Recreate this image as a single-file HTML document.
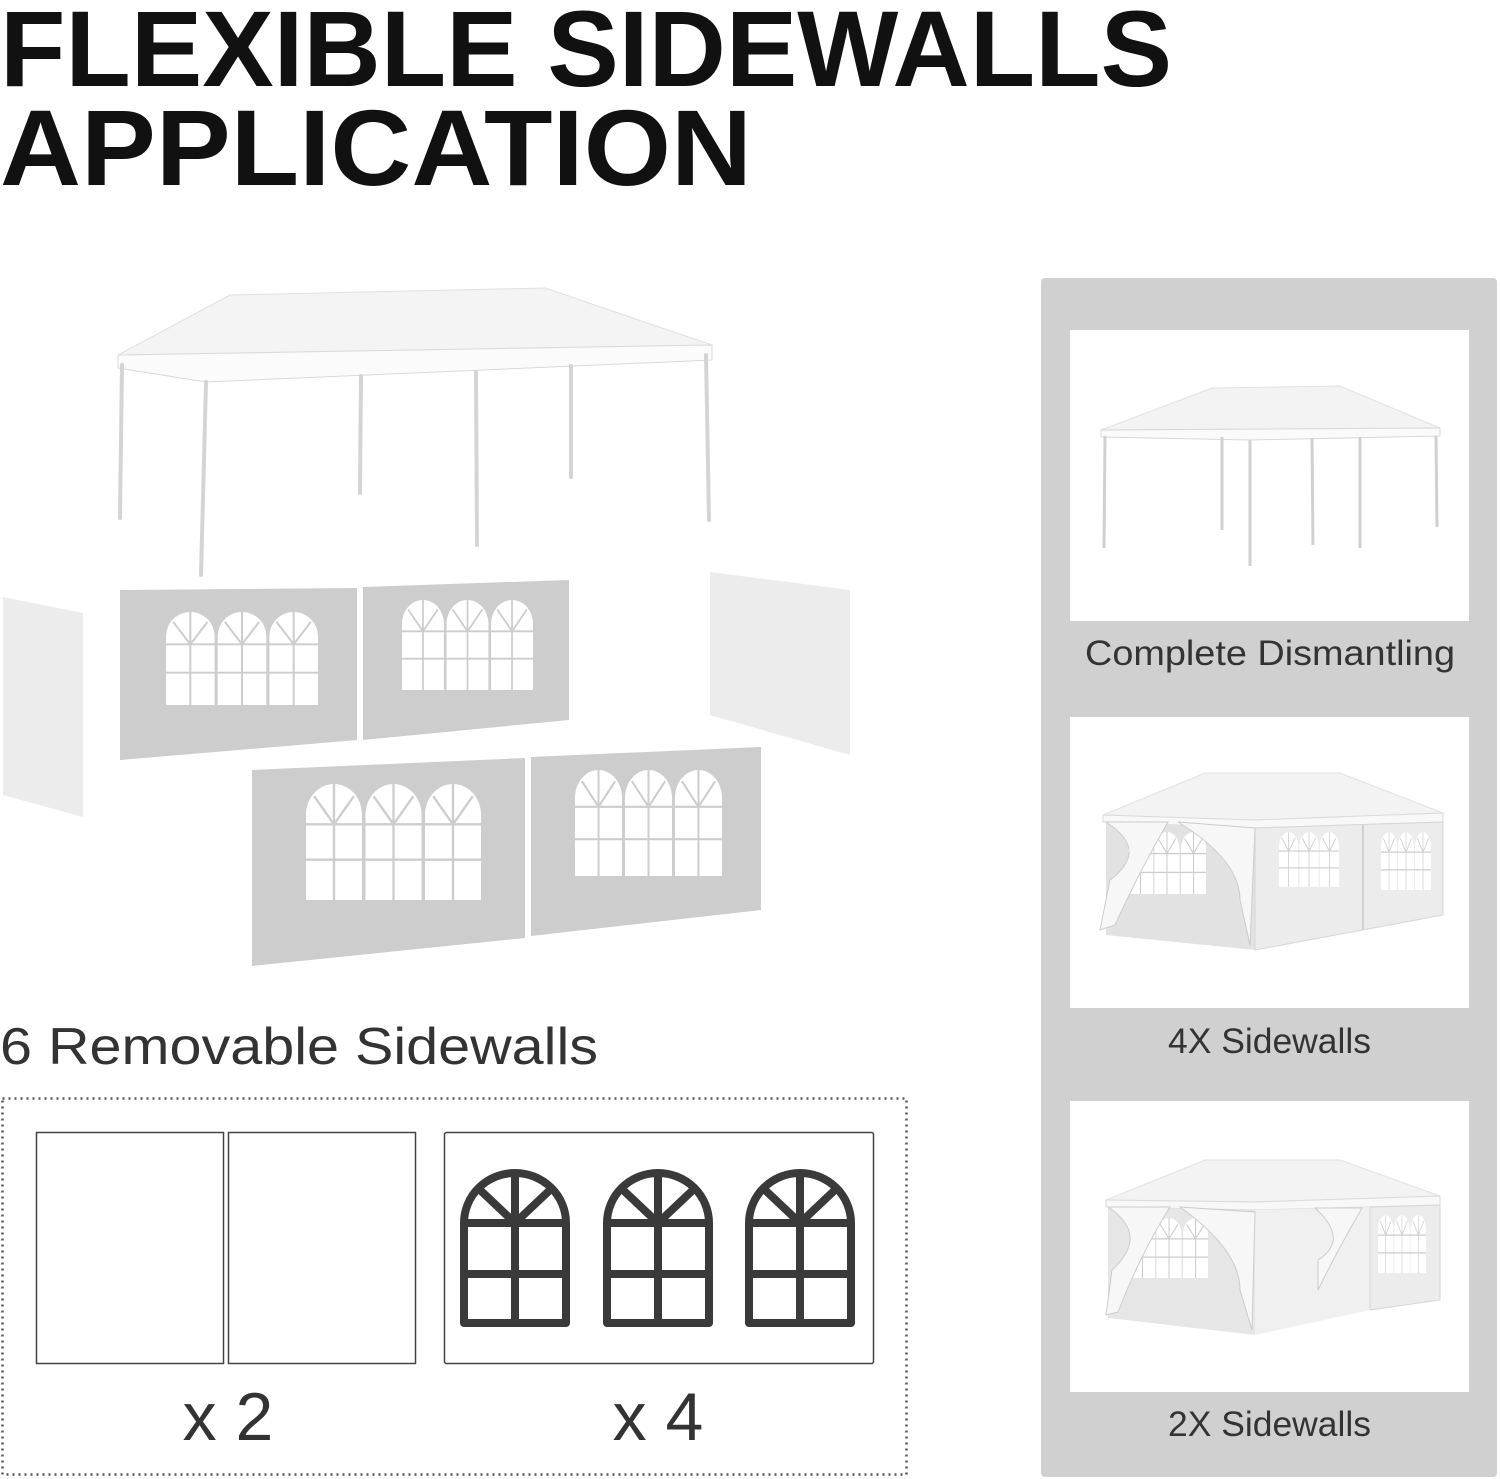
<!DOCTYPE html>
<html><head><meta charset="utf-8"><style>
html,body{margin:0;padding:0;background:#fff;}
svg{display:block;}
</style></head><body>
<svg width="1500" height="1479" viewBox="0 0 1500 1479" xmlns="http://www.w3.org/2000/svg" font-family="Liberation Sans, sans-serif">
<defs>
<symbol id="win" viewBox="0 0 150 95" preserveAspectRatio="none" overflow="visible">
  <g fill="#fff">
    <path d="M0,95 V25 A24,25 0 0 1 48,25 V95 Z"/>
    <path d="M51,95 V25 A24,25 0 0 1 99,25 V95 Z"/>
    <path d="M102,95 V25 A24,25 0 0 1 150,25 V95 Z"/>
  </g>
  <g stroke="#cdcdcd" stroke-width="2" fill="none">
    <path d="M24,0V95M75,0V95M126,0V95M0,33H150M0,62H150"/>
    <path d="M24,33L7,10M24,33L41,10M75,33L58,10M75,33L92,10M126,33L109,10M126,33L143,10"/>
  </g>
</symbol>
<symbol id="bigwin" viewBox="0 0 110 157" overflow="visible">
  <g fill="none" stroke="#3a3a3a" stroke-width="8" stroke-linejoin="round">
    <path d="M4,153 V53 A51,50 0 0 1 106,53 V153 Z"/>
    <path d="M55,4V153M4,53H106M4,104H106M55,53L19,19M55,53L91,19"/>
  </g>
</symbol>
</defs>

<!-- Title -->
<text x="0" y="86" font-size="108" font-weight="bold" fill="#111" textLength="1172" lengthAdjust="spacingAndGlyphs">FLEXIBLE SIDEWALLS</text>
<text x="0" y="185" font-size="108" font-weight="bold" fill="#111" textLength="752" lengthAdjust="spacingAndGlyphs">APPLICATION</text>

<!-- Main tent -->
<polygon points="118,355 230,295 545,288 712,345" fill="#f4f4f4" stroke="#e0e0e0"/>
<polygon points="118,355 712,345 712,360 206,382 118,368" fill="#fbfbfb" stroke="#dadada"/>
<g stroke="#d4d4d4" stroke-width="4" stroke-linecap="round">
  <line x1="122" y1="365" x2="120" y2="518"/>
  <line x1="206" y1="382" x2="201" y2="575"/>
  <line x1="361" y1="376" x2="360" y2="493"/>
  <line x1="476" y1="372" x2="477" y2="545"/>
  <line x1="571" y1="366" x2="571" y2="477"/>
  <line x1="706" y1="355" x2="709" y2="520"/>
</g>

<!-- Exploded sidewalls -->
<polygon points="3,597 83,613 83,817 3,795" fill="#ececec"/>
<polygon points="710,572 850,590 850,755 710,715" fill="#ececec"/>
<polygon points="120,590 357,588 357,740 120,760" fill="#cdcdcd"/>
<polygon points="363,587 569,580 569,720 363,740" fill="#cdcdcd"/>
<polygon points="252,770 525,758 525,938 252,966" fill="#cdcdcd"/>
<polygon points="531,757 761,747 761,910 531,936" fill="#cdcdcd"/>
<use href="#win" x="166" y="612" width="152" height="93"/>
<use href="#win" x="402" y="600" width="131" height="90"/>
<use href="#win" x="306" y="784" width="175" height="116"/>
<use href="#win" x="575" y="770" width="147" height="106"/>

<!-- 6 Removable Sidewalls -->
<text x="0" y="1064" font-size="52" fill="#333" textLength="598" lengthAdjust="spacingAndGlyphs">6 Removable Sidewalls</text>
<rect x="2.5" y="1098.5" width="904" height="376" fill="none" stroke="#555" stroke-width="2.5" stroke-dasharray="2,4"/>
<rect x="36.5" y="1132.5" width="187" height="231" fill="#fff" stroke="#444" stroke-width="1.5"/>
<rect x="228.5" y="1132.5" width="187" height="231" fill="#fff" stroke="#444" stroke-width="1.5"/>
<rect x="444.5" y="1132.5" width="429" height="231" rx="2" fill="#fff" stroke="#444" stroke-width="1.5"/>
<use href="#bigwin" x="460" y="1170" width="110" height="157"/>
<use href="#bigwin" x="603" y="1170" width="110" height="157"/>
<use href="#bigwin" x="745" y="1170" width="110" height="157"/>
<text x="228" y="1440" font-size="68" fill="#333" text-anchor="middle">x 2</text>
<text x="658" y="1440" font-size="68" fill="#333" text-anchor="middle">x 4</text>

<!-- Right panel -->
<rect x="1041" y="278" width="456" height="1199" rx="4" fill="#d0d0d0"/>
<rect x="1070" y="330" width="399" height="291" fill="#fff"/>
<rect x="1070" y="717" width="399" height="291" fill="#fff"/>
<rect x="1070" y="1101" width="399" height="291" fill="#fff"/>

<!-- card 1 tent -->
<polygon points="1101,430 1212,388 1340,386 1440,428" fill="#f3f3f3" stroke="#e2e2e2"/>
<polygon points="1101,430 1440,428 1440,436 1250,440 1101,437" fill="#fafafa" stroke="#d8d8d8"/>
<g stroke="#d0d0d0" stroke-width="3">
  <line x1="1105" y1="436" x2="1104" y2="548"/>
  <line x1="1250" y1="440" x2="1250" y2="566"/>
  <line x1="1222" y1="437" x2="1222" y2="530"/>
  <line x1="1312" y1="438" x2="1313" y2="545"/>
  <line x1="1360" y1="437" x2="1360" y2="548"/>
  <line x1="1436" y1="436" x2="1437" y2="527"/>
</g>

<!-- card 2 tent -->
<polygon points="1103,815 1205,773 1340,773 1443,813 1255,820" fill="#f3f3f3" stroke="#e2e2e2"/>
<polygon points="1103,815 1255,820 1443,813 1443,822 1255,828 1103,822" fill="#f8f8f8" stroke="#dadada"/>
<polygon points="1106,822 1255,828 1255,950 1106,935" fill="#e2e2e2"/>
<polygon points="1255,828 1443,822 1443,915 1255,950" fill="#ececec" stroke="#d6d6d6"/>
<line x1="1363" y1="825" x2="1363" y2="930" stroke="#d0d0d0" stroke-width="2"/>
<use href="#win" x="1128" y="832" width="78" height="62"/>
<use href="#win" x="1279" y="832" width="60" height="55"/>
<use href="#win" x="1381" y="832" width="50" height="58"/>
<path d="M1106,822 Q1150,850 1110,880 L1100,930 L1115,925 Q1140,870 1168,822Z" fill="#f7f7f7" stroke="#ccc"/>
<path d="M1178,822 Q1240,860 1240,900 L1250,945 L1255,828Z" fill="#f7f7f7" stroke="#ccc"/>

<!-- card 3 tent -->
<polygon points="1106,1200 1205,1160 1340,1160 1440,1196 1255,1202" fill="#f3f3f3" stroke="#e2e2e2"/>
<polygon points="1106,1200 1255,1202 1440,1196 1440,1205 1255,1210 1106,1207" fill="#f8f8f8" stroke="#dadada"/>
<polygon points="1108,1207 1255,1210 1255,1335 1108,1318" fill="#e6e6e6"/>
<polygon points="1255,1210 1370,1207 1370,1310 1255,1335" fill="#f0f0f0"/>
<polygon points="1370,1207 1440,1205 1440,1300 1370,1310" fill="#ececec" stroke="#d6d6d6"/>
<use href="#win" x="1130" y="1218" width="78" height="60"/>
<use href="#win" x="1378" y="1215" width="48" height="58"/>
<path d="M1108,1207 Q1150,1235 1112,1270 L1106,1315 L1118,1312 Q1140,1255 1170,1207Z" fill="#f7f7f7" stroke="#ccc"/>
<path d="M1180,1207 Q1240,1250 1240,1290 L1252,1330 L1255,1212Z" fill="#f7f7f7" stroke="#ccc"/>
<path d="M1315,1208 Q1350,1240 1318,1260 L1318,1290 Q1335,1255 1362,1208Z" fill="#f7f7f7" stroke="#ccc"/>

<text x="1085" y="665" font-size="35" fill="#333" textLength="370" lengthAdjust="spacingAndGlyphs">Complete Dismantling</text>
<text x="1168" y="1053" font-size="35" fill="#333" textLength="203" lengthAdjust="spacingAndGlyphs">4X Sidewalls</text>
<text x="1168" y="1436" font-size="35" fill="#333" textLength="203" lengthAdjust="spacingAndGlyphs">2X Sidewalls</text>
</svg>
</body></html>
